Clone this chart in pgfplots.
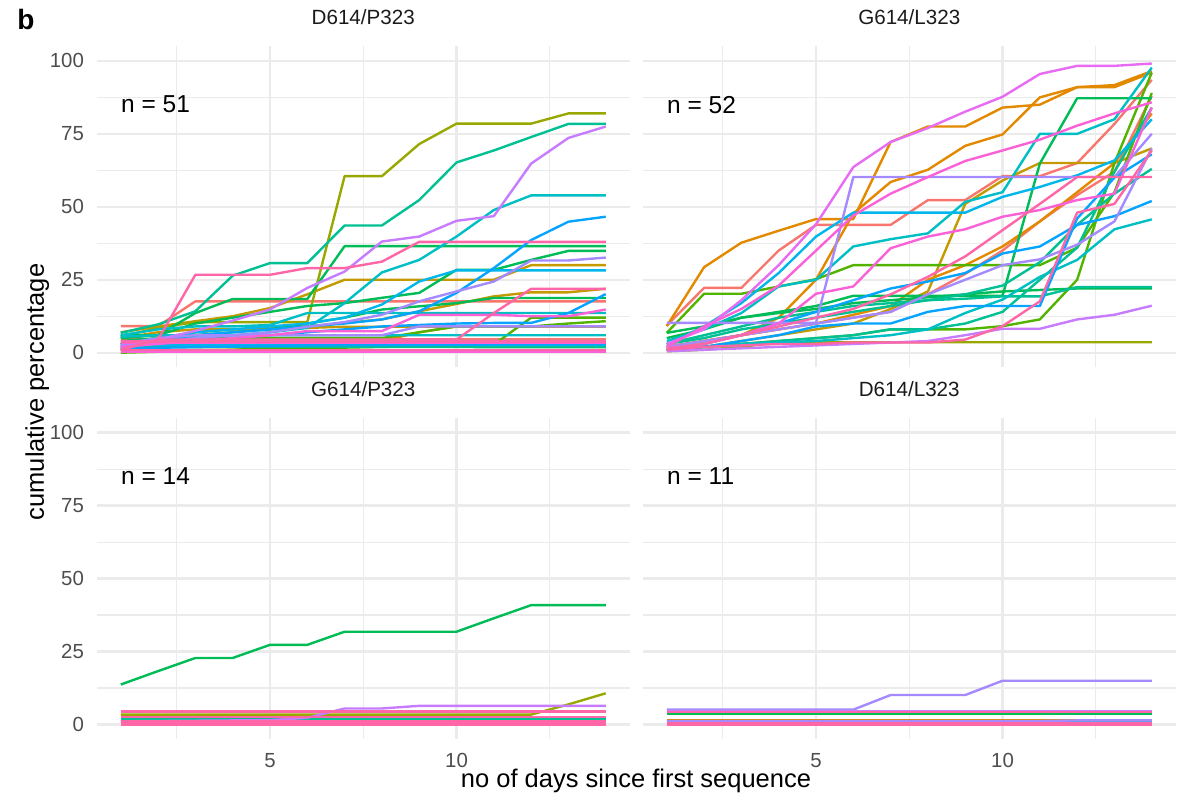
\documentclass[border=0pt]{standalone}
\usepackage{pgfplots}
\pgfplotsset{compat=1.18}
\usepackage{fontspec}
\setmainfont{Liberation Sans}
\definecolor{cSal}{HTML}{F8766D}
\definecolor{cOra}{HTML}{E38900}
\definecolor{cGol}{HTML}{C49A00}
\definecolor{cOli}{HTML}{99A800}
\definecolor{cLim}{HTML}{53B400}
\definecolor{cGre}{HTML}{00BC56}
\definecolor{cTea}{HTML}{00C094}
\definecolor{cCya}{HTML}{00BFC4}
\definecolor{cSky}{HTML}{00B6EB}
\definecolor{cBlu}{HTML}{06A4FF}
\definecolor{cPer}{HTML}{A58AFF}
\definecolor{cLav}{HTML}{C77CFF}
\definecolor{cPur}{HTML}{E76BF3}
\definecolor{cMag}{HTML}{FB61D7}
\definecolor{cPin}{HTML}{FF66A8}
\definecolor{gridc}{HTML}{EBEBEB}
\definecolor{tickc}{HTML}{4D4D4D}
\definecolor{stripc}{HTML}{1A1A1A}
\pgfplotsset{
 facet/.style={
  scale only axis, width=266.75pt, height=160.5pt,
  xmin=0.35, xmax=14.65, ymin=-5, ymax=105,
  xtick={5,10}, minor xtick={2.5,7.5,12.5},
  ytick={0,25,50,75,100}, minor ytick={12.5,37.5,62.5,87.5},
  grid=both,
  major grid style={draw=gridc, line width=1.2pt},
  minor grid style={draw=gridc, line width=0.6pt},
  axis line style={draw=none},
  major tick length=0pt, minor tick length=0pt,
  tick label style={font=\fontsize{10.2}{12}\selectfont, text=tickc},
  /pgf/number format/assume math mode=true,
  yticklabel style={anchor=east, inner sep=0pt, xshift=-6.1pt},
  xticklabel style={anchor=north, inner sep=0pt, yshift=-7.1pt},
  title style={at={(0.5,1)}, anchor=center, yshift=8.6pt, font=\fontsize{10.3}{12}\selectfont, text=stripc, inner sep=0pt},
  every axis plot/.append style={line width=1.2pt, mark=none, line join=round},
 },
}
\tikzset{nlab/.style={anchor=west, inner sep=0pt, font=\fontsize{12.25}{14}\selectfont}}
\begin{document}
\begin{tikzpicture}
\path[use as bounding box] (0,0) rectangle (590.5pt,402pt);
% ---------------- top left: D614/P323
\begin{axis}[facet, at={(48.25pt,218.35pt)}, anchor=south west, title={D614/P323}, xticklabels={}]
\addplot[cSal] coordinates {(1,9.1)(2,9.1)(3,17.6)(4,17.6)(5,17.6)(6,17.6)(7,17.6)(8,17.6)(9,17.6)(10,17.6)(11,17.6)(12,17.6)(13,17.6)(14,17.6)};
\addplot[cSal] coordinates {(1,4.5)(14,4.5)};
\addplot[cOra] coordinates {(1,1)(2,2)(3,3)(4,3.5)(5,4)(6,4)(7,4)(8,4)(9,7)(10,9)(11,9)(12,9)(13,9)(14,9)};
\addplot[cOra] coordinates {(1,4)(14,4)};
\addplot[cGol] coordinates {(1,7)(2,9)(3,10.8)(4,12.5)(5,15.3)(6,20)(7,25)(8,25)(9,25)(10,25)(11,25)(12,30)(13,30)(14,30)};
\addplot[cGol] coordinates {(1,3)(2,5)(3,7)(4,8)(5,8.5)(6,9)(7,10.2)(8,11.4)(9,14.2)(10,16.7)(11,19.3)(12,20.7)(13,20.7)(14,21.9)};
\addplot[cGol] coordinates {(1,5)(2,7)(3,8)(4,8)(5,8)(6,8.5)(7,8.9)(8,8.9)(9,8.9)(10,8.9)(11,8.9)(12,8.9)(13,8.9)(14,8.9)};
\addplot[cOli] coordinates {(1,5.5)(2,8.5)(3,10.5)(4,10.5)(5,10.5)(6,10.5)(7,60.5)(8,60.5)(9,71.5)(10,78.5)(11,78.5)(12,78.5)(13,82)(14,82)};
\addplot[cLim] coordinates {(1,3)(2,4)(3,5)(4,5)(5,5)(6,5)(7,5)(8,5)(9,7)(10,9)(11,9)(12,9)(13,10)(14,10.8)};
\addplot[cLim] coordinates {(1,1)(2,1)(3,1)(4,1)(5,1.5)(6,2)(7,2)(8,2.5)(9,2.5)(10,2.8)(11,2.8)(12,12)(13,12)(14,12)};
\addplot[cLim] coordinates {(1,0)(4,1)(8,2)(14,3)};
\addplot[cGre] coordinates {(1,6)(2,6)(3,13.6)(4,18.4)(5,18.4)(6,18.4)(7,36.5)(8,36.5)(9,36.5)(10,36.5)(11,36.5)(12,36.5)(13,36.5)(14,36.5)};
\addplot[cGre] coordinates {(1,5)(2,6)(3,10)(4,12)(5,14)(6,16)(7,17)(8,18.8)(9,20.5)(10,28.4)(11,28.4)(12,31.8)(13,34.9)(14,34.9)};
\addplot[cGre] coordinates {(1,4)(2,5)(3,6)(4,7)(5,8)(6,10)(7,12)(8,14.8)(9,15.9)(10,17)(11,18.75)(12,18.75)(13,18.75)(14,18.75)};
\addplot[cGre] coordinates {(1,0.8)(14,1)};
\addplot[cTea] coordinates {(1,6.8)(2,9.7)(3,14.2)(4,26.4)(5,30.7)(6,30.7)(7,43.6)(8,43.6)(9,52.3)(10,65.2)(11,69.3)(12,73.9)(13,78.4)(14,78.4)};
\addplot[cTea] coordinates {(1,2)(14,2)};
\addplot[cCya] coordinates {(1,3)(2,4)(3,5)(4,6)(5,7)(6,8.5)(7,17)(8,27.5)(9,31.8)(10,39.8)(11,48.9)(12,53.9)(13,53.9)(14,53.9)};
\addplot[cCya] coordinates {(1,6)(2,8)(3,9)(4,9)(5,9.5)(6,13.6)(7,13.6)(8,13.6)(9,13.6)(10,13.6)(11,13.6)(12,13.6)(13,13.6)(14,13.6)};
\addplot[cCya] coordinates {(1,5.5)(2,6)(14,6)};
\addplot[cSky] coordinates {(1,3)(2,5)(3,7)(4,8)(5,9)(6,10)(7,12)(8,16.5)(9,24.4)(10,28.2)(11,28.2)(12,28.2)(13,28.2)(14,28.2)};
\addplot[cSky] coordinates {(1,2.8)(14,2.8)};
\addplot[cBlu] coordinates {(1,2)(2,4)(3,6)(4,7)(5,8)(6,9)(7,10)(8,11.4)(9,14.2)(10,20.5)(11,29)(12,38.6)(13,44.9)(14,46.6)};
\addplot[cBlu] coordinates {(1,2)(2,3)(3,4)(4,5)(5,6)(6,7)(7,8)(8,9)(9,9.5)(10,10)(11,10.2)(12,10.2)(13,13.6)(14,20.1)};
\addplot[cBlu] coordinates {(1,1.5)(6,2.5)(14,3)};
\addplot[cPer] coordinates {(1,2)(2,3.5)(3,5)(4,6)(5,7)(6,8.9)(7,10.5)(8,13)(9,17.6)(10,21)(11,24.4)(12,31.6)(13,31.6)(14,32.6)};
\addplot[cPer] coordinates {(1,2.5)(2,4)(14,4)};
\addplot[cPer] coordinates {(1,3)(2,5)(3,6)(4,6)(5,6)(6,6)(7,6)(8,6)(9,9)(10,9)(11,9)(12,9)(13,9)(14,9)};
\addplot[cLav] coordinates {(1,1)(2,4.5)(3,7.5)(4,11)(5,14.8)(6,22.2)(7,27.8)(8,38.1)(9,39.8)(10,45.2)(11,46.8)(12,64.8)(13,73.6)(14,77.5)};
\addplot[cLav] coordinates {(1,0.5)(14,0.5)};
\addplot[cMag] coordinates {(1,2)(2,3)(3,4)(4,5)(5,6)(6,7.4)(7,7.4)(8,7.4)(9,13)(10,13)(11,13)(12,12.5)(13,12.5)(14,14.8)};
\addplot[cMag] coordinates {(1,3.4)(14,3.4)};
\addplot[cMag] coordinates {(1,0.2)(14,0.2)};
\addplot[cPin] coordinates {(1,1)(2,4.5)(3,26.7)(4,26.7)(5,26.7)(6,29)(7,29)(8,31.2)(9,38)(10,38)(11,38)(12,38)(13,38)(14,38)};
\addplot[cPin] coordinates {(1,1)(2,4.5)(3,4.5)(4,4.5)(5,4.5)(6,4.5)(7,4.5)(8,4.5)(9,4.5)(10,4.5)(11,13.6)(12,21.9)(13,21.9)(14,21.9)};
\addplot[cPin] coordinates {(1,3.8)(14,3.8)};
\addplot[cPin] coordinates {(1,1)(14,1)};
\node[nlab] at (axis cs:1,85) {n = 51};
\end{axis}
% ---------------- top right: G614/L323
\begin{axis}[facet, at={(321.25pt,218.35pt)}, anchor=south west, title={G614/L323}, xticklabels={}, yticklabels={}]
\addplot[cSal] coordinates {(1,9.3)(2,22.2)(3,22.2)(4,35)(5,43.8)(6,43.8)(7,43.8)(8,52.3)(9,52.3)(10,60.5)(11,60.5)(12,65)(13,78.4)(14,93.5)};
\addplot[cSal] coordinates {(1,2)(2,4)(3,6)(4,8)(5,10)(6,12)(7,14)(8,20)(9,27)(10,35)(11,45)(12,54)(13,62)(14,88)};
\addplot[cOra] coordinates {(1,9.1)(2,29.3)(3,37.7)(4,41.8)(5,45.8)(6,45.8)(7,72.2)(8,77.5)(9,77.5)(10,84)(11,85)(12,91)(13,91)(14,96)};
\addplot[cOra] coordinates {(1,2)(2,4)(3,6)(4,12)(5,25)(6,47.7)(7,58.5)(8,62.7)(9,70.9)(10,74.8)(11,87.5)(12,91)(13,91.7)(14,96.5)};
\addplot[cOra] coordinates {(1,2)(2,4)(3,6)(4,8)(5,10)(6,13)(7,16)(8,25)(9,30)(10,36.4)(11,45)(12,55)(13,65)(14,82)};
\addplot[cGol] coordinates {(1,1)(2,2)(3,4)(4,6)(5,8)(6,10)(7,15)(8,21)(9,51)(10,59)(11,65)(12,65)(13,65)(14,70)};
\addplot[cOli] coordinates {(1,0.5)(2,1)(3,2)(4,3.6)(14,3.6)};
\addplot[cLim] coordinates {(1,6.8)(2,20.2)(3,20.2)(4,22.7)(5,25.2)(6,30)(7,30)(8,30)(9,30)(10,30)(11,30)(12,36)(13,55)(14,89)};
\addplot[cLim] coordinates {(1,1)(2,2)(3,3)(4,4)(5,5)(6,6)(7,8)(8,8)(9,8)(10,9.1)(11,11.4)(12,25)(13,65)(14,96)};
\addplot[cGre] coordinates {(1,6.8)(2,9)(3,12)(4,14)(5,16)(6,19.5)(7,19.5)(8,19.5)(9,19.5)(10,19.5)(11,64.8)(12,87.2)(13,87.2)(14,87.2)};
\addplot[cGre] coordinates {(1,5)(2,8)(3,12)(4,13.6)(5,15)(6,17)(7,18)(8,19)(9,20)(10,21)(11,21.5)(12,22)(13,22)(14,22)};
\addplot[cTea] coordinates {(1,3)(2,5)(3,8)(4,10)(5,12)(6,14)(7,16)(8,18)(9,20)(10,23)(11,31)(12,43.8)(13,54.5)(14,63)};
\addplot[cTea] coordinates {(1,3)(2,6)(3,9)(4,12)(5,14)(6,16)(7,17)(8,18)(9,18.5)(10,19.3)(11,19.3)(12,22.5)(13,22.5)(14,22.5)};
\addplot[cTea] coordinates {(1,1)(2,2)(3,3)(4,4)(5,5)(6,6)(7,8)(8,8)(9,10)(10,14)(11,25)(12,36)(13,62)(14,84)};
\addplot[cCya] coordinates {(1,4)(2,8)(3,13.6)(4,22.7)(5,25)(6,36.4)(7,38.9)(8,40.9)(9,51.7)(10,55)(11,75)(12,75)(13,80)(14,97.7)};
\addplot[cCya] coordinates {(1,1)(2,2)(3,3)(4,3.5)(5,4)(6,5)(7,6)(8,8)(9,13.6)(10,18.2)(11,26)(12,31.8)(13,42.3)(14,45.7)};
\addplot[cSky] coordinates {(1,2.8)(2,9)(3,17)(4,27.3)(5,39.8)(6,48)(7,48)(8,48)(9,48)(10,53.4)(11,56.8)(12,60.8)(13,65.9)(14,80)};
\addplot[cBlu] coordinates {(1,1)(2,3)(3,6)(4,10)(5,14)(6,18)(7,22)(8,24.4)(9,27.3)(10,34)(11,36.4)(12,43.8)(13,46.8)(14,52)};
\addplot[cBlu] coordinates {(1,1)(2,2)(3,4)(4,6)(5,9)(6,10)(7,10)(8,14)(9,16)(10,16)(11,16)(12,46)(13,60)(14,68)};
\addplot[cPer] coordinates {(1,10.2)(2,10.2)(3,10.2)(4,10.2)(5,10.2)(6,60.2)(7,60.2)(8,60.2)(9,60.2)(10,60.2)(11,60.2)(12,60.2)(13,60.2)(14,75)};
\addplot[cPer] coordinates {(1,2)(2,4)(3,6)(4,8)(5,10)(6,12)(7,14)(8,20)(9,25)(10,30)(11,32)(12,37)(13,45)(14,70)};
\addplot[cPur] coordinates {(1,3)(2,8)(3,18)(4,30)(5,44)(6,63.6)(7,72.2)(8,77)(9,82.6)(10,87.7)(11,95.5)(12,98.3)(13,98.3)(14,99.1)};
\addplot[cLav] coordinates {(1,0.5)(2,1)(3,1.5)(4,2)(5,2.5)(6,3)(7,3.5)(8,4)(9,6)(10,8.2)(11,8.2)(12,11.4)(13,13)(14,16.1)};
\addplot[cMag] coordinates {(1,2)(2,9)(3,15)(4,23)(5,35)(6,47)(7,54.5)(8,60.2)(9,65.7)(10,69.3)(11,73)(12,77.8)(13,82)(14,85.8)};
\addplot[cMag] coordinates {(1,1)(2,3)(3,6)(4,10)(5,20.2)(6,22.7)(7,35.8)(8,39.8)(9,42.3)(10,46.6)(11,48.9)(12,52.3)(13,54.5)(14,84)};
\addplot[cPin] coordinates {(1,1.5)(2,3)(3,6)(4,9)(5,12)(6,15)(7,20)(8,26)(9,33)(10,42)(11,51)(12,60.2)(13,60.2)(14,60.2)};
\addplot[cPin] coordinates {(1,1)(2,2)(3,2.5)(4,3)(5,3)(6,3.5)(7,3.5)(8,3.5)(9,4.5)(10,9.1)(11,17.6)(12,48)(13,51)(14,69.3)};
\node[nlab] at (axis cs:1,85) {n = 52};
\end{axis}
% ---------------- bottom left: G614/P323
\begin{axis}[facet, at={(48.25pt,32.45pt)}, anchor=south west, title={G614/P323}]
\addplot[cSal] coordinates {(1,0.9)(14,0.9)};
\addplot[cOra] coordinates {(1,1.2)(14,1.2)};
\addplot[cOli] coordinates {(1,3.4)(2,3.4)(3,3.4)(4,3.4)(5,3.4)(6,3.4)(7,3.4)(8,3.4)(9,3.4)(10,3.4)(11,3.4)(12,3.4)(13,6.9)(14,10.7)};
\addplot[cGre] coordinates {(1,13.7)(2,18.3)(3,22.8)(4,22.8)(5,27.3)(6,27.3)(7,31.8)(8,31.8)(9,31.8)(10,31.8)(11,36.4)(12,40.9)(13,40.9)(14,40.9)};
\addplot[cTea] coordinates {(1,1.7)(14,1.7)};
\addplot[cBlu] coordinates {(1,0.6)(14,0.6)};
\addplot[cLav] coordinates {(1,1.1)(2,1.2)(3,1.3)(4,1.4)(5,1.5)(6,2.3)(7,5.5)(8,5.5)(9,6.4)(10,6.4)(11,6.4)(12,6.4)(13,6.4)(14,6.4)};
\addplot[cMag] coordinates {(1,4.2)(14,4.2)};
\addplot[cMag] coordinates {(1,0.3)(14,0.3)};
\addplot[cPin] coordinates {(1,4.5)(14,4.5)};
\addplot[cPin] coordinates {(1,2.6)(14,2.6)};
\addplot[cPin] coordinates {(1,0)(14,0)};
\addplot[cPin] coordinates {(1,0.5)(14,0.5)};
\addplot[cPin] coordinates {(1,1)(14,1)};
\node[nlab] at (axis cs:1,85) {n = 14};
\end{axis}
% ---------------- bottom right: D614/L323
\begin{axis}[facet, at={(321.25pt,32.45pt)}, anchor=south west, title={D614/L323}, yticklabels={}]
\addplot[cSal] coordinates {(1,0.5)(14,0.5)};
\addplot[cOra] coordinates {(1,1.4)(14,1.4)};
\addplot[cOli] coordinates {(1,3.9)(14,3.9)};
\addplot[cGre] coordinates {(1,3.6)(14,3.6)};
\addplot[cCya] coordinates {(1,1.0)(14,1.0)};
\addplot[cPer] coordinates {(1,5.1)(2,5.1)(3,5.1)(4,5.1)(5,5.1)(6,5.1)(7,10.1)(8,10.1)(9,10.1)(10,15)(11,15)(12,15)(13,15)(14,15)};
\addplot[cPer] coordinates {(1,1.2)(11,1.2)(12,1.4)(14,1.4)};
\addplot[cLav] coordinates {(1,4.6)(14,4.6)};
\addplot[cPin] coordinates {(1,4.3)(14,4.3)};
\addplot[cPin] coordinates {(1,0)(14,0)};
\addplot[cPin] coordinates {(1,0.3)(14,0.3)};
\node[nlab] at (axis cs:1,85) {n = 11};
\end{axis}
\node[rotate=90, anchor=north, inner sep=0pt, font=\fontsize{12.75}{15}\selectfont] at (12.5pt,206pt) {cumulative percentage};
\node[anchor=base, inner sep=0pt, font=\fontsize{12.75}{15}\selectfont] at (318pt,8.5pt) {no of days since first sequence};
\node[anchor=base west, inner sep=0pt, font=\bfseries\fontsize{14}{16}\selectfont] at (8.5pt,387.35pt) {b};
\end{tikzpicture}
\end{document}
